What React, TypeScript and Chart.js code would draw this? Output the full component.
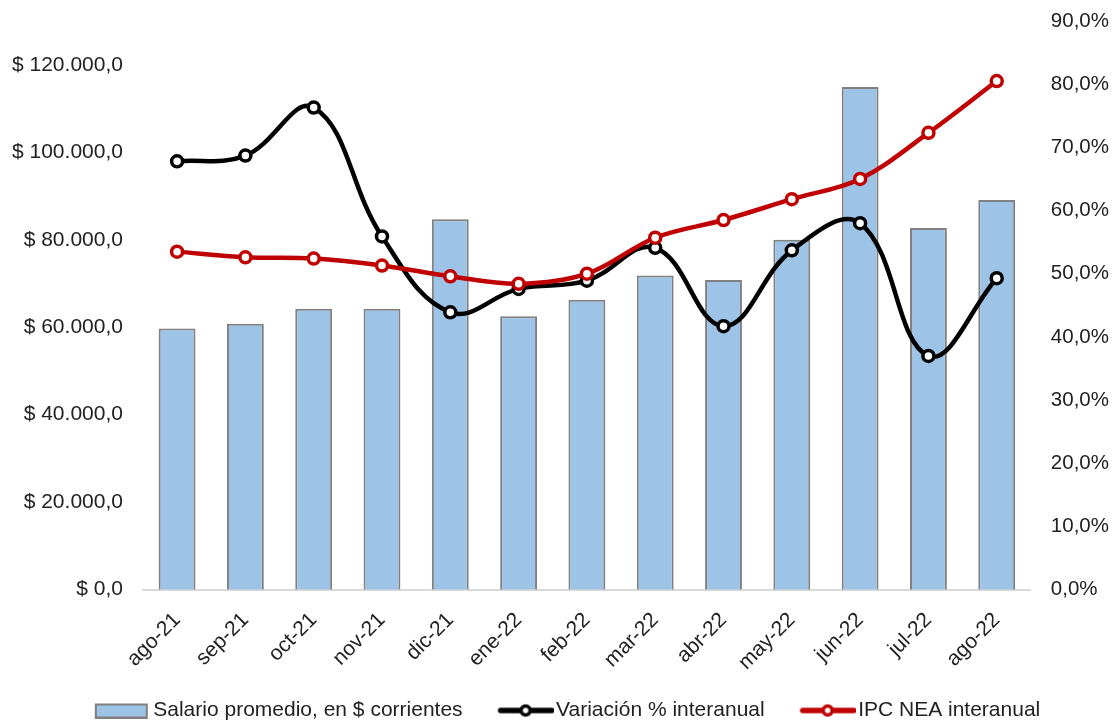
import React, { useEffect, useRef } from "react";
import { Chart, registerables } from "chart.js";

Chart.register(...registerables);

const categories = ["ago-21", "sep-21", "oct-21", "nov-21", "dic-21", "ene-22", "feb-22", "mar-22", "abr-22", "may-22", "jun-22", "jul-22", "ago-22"];
const salario = [59700, 60800, 64200, 64200, 84700, 62500, 66300, 71800, 70800, 80000, 114900, 82700, 89100];
const variacion = [67.8, 68.7, 76.3, 55.9, 43.9, 47.6, 48.9, 54.1, 41.7, 53.7, 58.0, 37.0, 49.3];
const ipcNea = [53.5, 52.6, 52.4, 51.3, 49.6, 48.4, 50.0, 55.7, 58.5, 61.8, 65.0, 72.3, 80.5];
const leftTicks = [0, 20000, 40000, 60000, 80000, 100000, 120000];
const rightTicks = [0, 10, 20, 30, 40, 50, 60, 70, 80, 90];
const legendLabels = ["Salario promedio, en $ corrientes", "Variación % interanual", "IPC NEA interanual"];

const FONT = "'Liberation Sans', Arial, sans-serif";
const TEXT = "#222222";
const BAR_FILL = "#9DC3E6";
const BAR_BORDER = "#808080";
const BLACK = "#000000";
const RED = "#C00000";

const ICON_W = 78; // image width; visible icon sits at its right end
const PSW = 62; // legend pointStyleWidth

function lineIcon(color: string): HTMLCanvasElement {
  const c = document.createElement("canvas");
  c.width = ICON_W;
  c.height = 16;
  const ctx = c.getContext("2d")!;
  const x0 = ICON_W - 56;
  ctx.strokeStyle = color;
  ctx.lineWidth = 5.5;
  ctx.lineCap = "round";
  ctx.beginPath();
  ctx.moveTo(x0 + 3, 8);
  ctx.lineTo(x0 + 54, 8);
  ctx.stroke();
  ctx.beginPath();
  ctx.arc(x0 + 28, 8, 4.5, 0, Math.PI * 2);
  ctx.fillStyle = "#ffffff";
  ctx.fill();
  ctx.lineWidth = 3.5;
  ctx.stroke();
  return c;
}

function barIcon(): HTMLCanvasElement {
  const c = document.createElement("canvas");
  c.width = ICON_W;
  c.height = 16;
  const ctx = c.getContext("2d")!;
  const x0 = ICON_W - 56;
  ctx.fillStyle = BAR_FILL;
  ctx.fillRect(x0 + 1, 2, 51, 13);
  ctx.strokeStyle = BAR_BORDER;
  ctx.lineWidth = 2;
  ctx.strokeRect(x0 + 1, 2, 51, 13);
  return c;
}

function fmtMoney(v: number): string {
  const s = Math.round(v).toString().replace(/\B(?=(\d{3})+(?!\d))/g, ".");
  return "$ " + s + ",0";
}

export default function App() {
  const ref = useRef<HTMLCanvasElement | null>(null);

  useEffect(() => {
    if (!ref.current) return;
    const icons = [barIcon(), lineIcon(BLACK), lineIcon(RED)];
    const chart = new Chart(ref.current, {
      type: "bar",
      data: {
        labels: categories,
        datasets: [
          {
            type: "bar",
            label: legendLabels[0],
            data: salario,
            backgroundColor: BAR_FILL,
            borderColor: BAR_BORDER,
            borderWidth: 2,
            yAxisID: "y",
            categoryPercentage: 1,
            barPercentage: 0.54,
            order: 2,
          },
          {
            type: "line",
            label: legendLabels[1],
            data: variacion,
            borderColor: BLACK,
            borderWidth: 4.5,
            backgroundColor: "#ffffff",
            pointBackgroundColor: "#ffffff",
            pointBorderColor: BLACK,
            pointBorderWidth: 3.5,
            pointRadius: 5.5,
            tension: 0.4,
            yAxisID: "y1",
            order: 1,
          },
          {
            type: "line",
            label: legendLabels[2],
            data: ipcNea,
            borderColor: RED,
            borderWidth: 4.5,
            backgroundColor: "#ffffff",
            pointBackgroundColor: "#ffffff",
            pointBorderColor: RED,
            pointBorderWidth: 3.5,
            pointRadius: 5.5,
            tension: 0.35,
            yAxisID: "y1",
            order: 0,
          },
        ],
      },
      options: {
        animation: false,
        responsive: true,
        maintainAspectRatio: false,
        layout: { padding: { top: 21, left: 12, right: 9, bottom: -9 } },
        plugins: {
          tooltip: { enabled: false },
          legend: {
            position: "bottom",
            labels: {
              font: { family: FONT, size: 21 },
              color: TEXT,
              usePointStyle: true,
              pointStyleWidth: PSW,
              padding: 21,
              generateLabels: () =>
                legendLabels.map((t, i) => ({
                  text: t,
                  pointStyle: icons[i] as any,
                  fillStyle: "#ffffff",
                  strokeStyle: "#ffffff",
                  lineWidth: 0,
                  hidden: false,
                  datasetIndex: i,
                  fontColor: TEXT,
                })),
            },
          },
        },
        scales: {
          x: {
            offset: true,
            grid: { display: false, drawTicks: true, tickLength: 14 },
            border: { display: true, color: "#d9d9d9", width: 2 },
            ticks: {
              font: { family: FONT, size: 21 },
              color: TEXT,
              maxRotation: 45,
              minRotation: 45,
              padding: 4,
              autoSkip: false,
            },
          },
          y: {
            position: "left",
            min: 0,
            max: 130000,
            grid: { display: false, drawTicks: true, tickLength: 20 },
            border: { display: false },
            afterBuildTicks: (axis: any) => {
              axis.ticks = leftTicks.map((v) => ({ value: v }));
            },
            ticks: {
              font: { family: FONT, size: 21 },
              color: TEXT,
              padding: 0,
              callback: (v: any) => fmtMoney(Number(v)),
            },
          },
          y1: {
            position: "right",
            min: 0,
            max: 90,
            grid: { display: false, drawTicks: true, tickLength: 20 },
            border: { display: false },
            afterBuildTicks: (axis: any) => {
              axis.ticks = rightTicks.map((v) => ({ value: v }));
            },
            ticks: {
              font: { family: FONT, size: 20.5 },
              color: TEXT,
              padding: 0,
              callback: (v: any) => Number(v).toFixed(1).replace(".", ",") + "%",
            },
          },
        },
      },
    });
    return () => chart.destroy();
  }, []);

  return (
    <div style={{ position: "fixed", left: 0, top: 0, width: 1118, height: 722, background: "#ffffff" }}>
      <canvas ref={ref} />
    </div>
  );
}
